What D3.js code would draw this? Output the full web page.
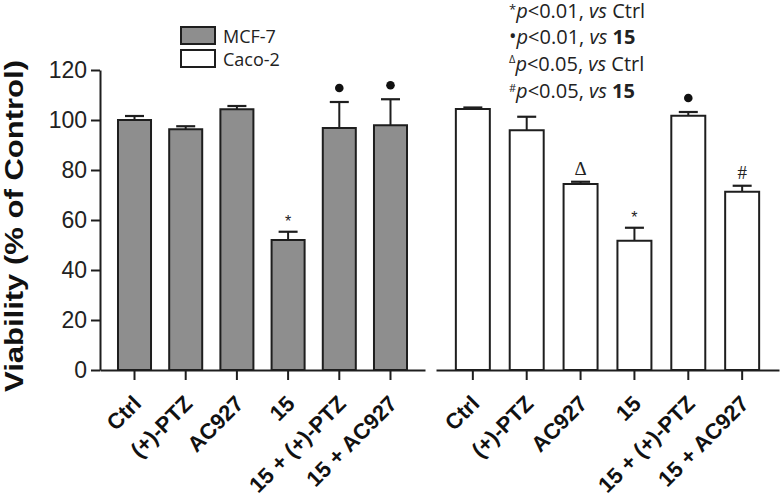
<!DOCTYPE html>
<html>
<head>
<meta charset="utf-8">
<script src="https://cdn.jsdelivr.net/npm/d3@7/dist/d3.min.js"></script>
<style>
  html, body { margin: 0; padding: 0; background: #fff; }
  svg { display: block; }
</style>
</head>
<body>
<svg id="chart" width="780" height="503"></svg>
<script>
// ---- Data ----
const categories = ["Ctrl", "(+)-PTZ", "AC927", "15", "15 + (+)-PTZ", "15 + AC927"];
const mcf7 = [100, 96.3, 104.3, 52, 96.8, 97.9];
const mcf7Err = [1.6, 1.2, 1.3, 3.3, 10.4, 10.4];
const caco2 = [104.4, 95.9, 74.4, 51.7, 101.7, 71.3];
const caco2Err = [0.6, 5.4, 0.9, 5.2, 1.5, 2.4];
const mcf7Marks = ["", "", "", "*", "•", "•"];
const caco2Marks = ["", "", "Δ", "*", "•", "#"];
const yTicks = [0, 20, 40, 60, 80, 100, 120];
const seriesNames = ["MCF-7", "Caco-2"];
const seriesFill = ["#8e8e8e", "#ffffff"];
const notes = [
  { sym: "*", ref: "Ctrl", bold: false },
  { sym: "•", ref: "15", bold: true },
  { sym: "Δ", ref: "Ctrl", bold: false },
  { sym: "#", ref: "15", bold: true }
];
const noteP = ["0.01", "0.01", "0.05", "0.05"];

// ---- Setup ----
const svg = d3.select("#chart");
const ink = "#1e1e1e";

const y = d3.scaleLinear().domain([0, 120]).range([370, 70]);

const xMcf = d3.scaleBand().domain(categories).range([100, 425])
  .paddingInner(0.316).paddingOuter(0.332);
const xCaco = d3.scaleBand().domain(categories).range([436, 779])
  .paddingInner(0.332).paddingOuter(0.35);

// ---- Y axis ----
const yAxis = svg.append("g").attr("transform", "translate(100,0)")
  .call(d3.axisLeft(y).tickValues(yTicks).tickSize(9).tickSizeOuter(0).tickPadding(4));
yAxis.select(".domain").attr("stroke", ink).attr("stroke-width", 2);
yAxis.selectAll(".tick line").attr("stroke", ink).attr("stroke-width", 2);
yAxis.selectAll(".tick text")
  .attr("font-family", "'Liberation Sans', Arial, sans-serif")
  .attr("font-size", 23).attr("fill", "#222");

// Y label
svg.append("text")
  .attr("transform", "translate(23,226) rotate(-90)")
  .attr("text-anchor", "middle")
  .attr("font-family", "'Liberation Sans', Arial, sans-serif")
  .attr("font-weight", "bold")
  .attr("font-size", 26)
  .attr("textLength", 332)
  .attr("lengthAdjust", "spacingAndGlyphs")
  .attr("fill", "#111")
  .text("Viability (% of Control)");

// ---- Groups ----
function drawGroup(xs, vals, errs, marks, fill) {
  const g = svg.append("g");
  // error bars (upward only)
  categories.forEach((c, i) => {
    const cx = xs(c) + xs.bandwidth() / 2;
    g.append("line").attr("x1", cx).attr("x2", cx)
      .attr("y1", y(vals[i])).attr("y2", y(vals[i] + errs[i]))
      .attr("stroke", ink).attr("stroke-width", 2);
    g.append("line").attr("x1", cx - 9.5).attr("x2", cx + 9.5)
      .attr("y1", y(vals[i] + errs[i])).attr("y2", y(vals[i] + errs[i]))
      .attr("stroke", ink).attr("stroke-width", 2.2);
  });
  g.selectAll("rect.bar").data(vals).join("rect")
    .attr("class", "bar")
    .attr("x", (d, i) => xs(categories[i]) + 1)
    .attr("width", xs.bandwidth() - 2)
    .attr("y", d => y(d))
    .attr("height", d => y(0) - y(d))
    .attr("fill", fill)
    .attr("stroke", ink).attr("stroke-width", 2);

  // significance marks
  categories.forEach((c, i) => {
    const m = marks[i];
    if (!m) return;
    const cx = xs(c) + xs.bandwidth() / 2;
    const cy = y(vals[i] + errs[i]) - 14;
    if (m === "•") {
      g.append("circle").attr("cx", cx).attr("cy", cy).attr("r", 4.3).attr("fill", "#111");
    } else if (m === "*") {
      g.append("text").attr("x", cx).attr("y", cy + 9).attr("text-anchor", "middle")
        .attr("font-family", "'Liberation Sans', Arial, sans-serif")
        .attr("font-size", 16).attr("fill", "#222").text(m);
    } else {
      g.append("text").attr("x", cx).attr("y", cy + 7).attr("text-anchor", "middle")
        .attr("font-family", "'Liberation Serif', 'Times New Roman', serif")
        .attr("font-size", 19).attr("fill", "#222").text(m);
    }
  });

  // x axis
  const ax = svg.append("g").attr("transform", "translate(0,370)")
    .call(d3.axisBottom(xs).tickSize(10).tickSizeOuter(0));
  ax.select(".domain").attr("stroke", ink).attr("stroke-width", 2);
  ax.selectAll(".tick line").attr("stroke", ink).attr("stroke-width", 2);
  ax.selectAll(".tick text")
    .attr("x", 0).attr("y", 0).attr("dy", 0)
    .attr("transform", "translate(8,35) rotate(-45)")
    .attr("text-anchor", "end")
    .attr("font-family", "'Liberation Sans', Arial, sans-serif")
    .attr("font-weight", "bold")
    .attr("font-size", 22)
    .attr("fill", "#111");
}

drawGroup(xMcf, mcf7, mcf7Err, mcf7Marks, seriesFill[0]);
drawGroup(xCaco, caco2, caco2Err, caco2Marks, seriesFill[1]);

// ---- Legend ----
const leg = svg.append("g");
seriesNames.forEach((n, i) => {
  leg.append("rect").attr("x", 181).attr("y", 27 + i * 23).attr("width", 34).attr("height", 17)
    .attr("fill", seriesFill[i]).attr("stroke", ink).attr("stroke-width", 2);
  leg.append("text").attr("x", 223).attr("y", 43 + i * 23)
    .attr("font-family", "'Open Sans', sans-serif").attr("font-size", 18)
    .attr("fill", "#222").text(n);
});

// ---- Notes ----
const symShift = [-4, -1.5, -8, -5.5];
const symSize = [13, 20, 11, 11];
notes.forEach((nt, i) => {
  const t = svg.append("text").attr("x", 509).attr("y", 17.5 + i * 26.7)
    .attr("font-family", "'Open Sans', sans-serif").attr("font-size", 20).attr("fill", "#222");
  t.append("tspan").attr("font-size", symSize[i]).attr("dy", symShift[i]).text(nt.sym);
  t.append("tspan").attr("dy", -symShift[i]).attr("font-style", "italic").text("p");
  t.append("tspan").text("<" + noteP[i] + ", ");
  t.append("tspan").attr("font-style", "italic").text("vs");
  t.append("tspan").text(" ");
  t.append("tspan").attr("font-weight", nt.bold ? "bold" : "normal").text(nt.ref);
});
</script>
</body>
</html>
